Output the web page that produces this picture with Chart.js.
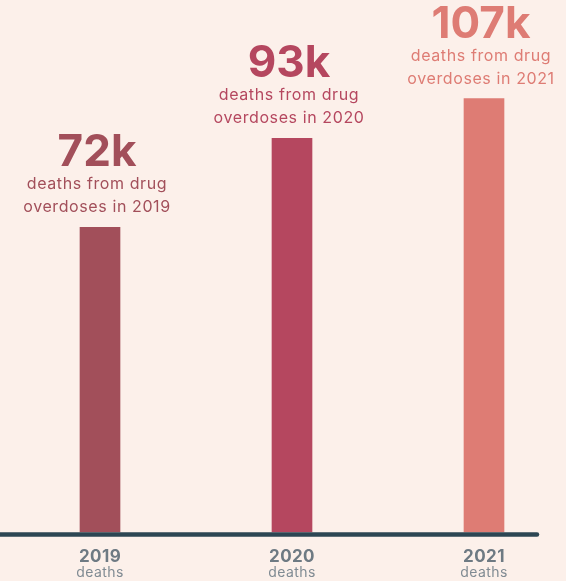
<!DOCTYPE html>
<html>
<head>
<meta charset="utf-8">
<script src="https://cdn.jsdelivr.net/npm/chart.js@4/dist/chart.umd.min.js"></script>
<style>
  html, body { margin: 0; padding: 0; background: #fcf0ea; }
  #wrap { width: 566px; height: 581px; position: relative; }
</style>
</head>
<body>
<div id="wrap"><canvas id="chart"></canvas></div>
<script>
const years = ['2019', '2020', '2021'];
// bar heights as drawn, in thousands of deaths
const barHeights = [72, 93, 102.4];
const valueLabels = ['72k', '93k', '107k'];
const captionLines = [
  ['deaths from drug', 'overdoses in 2019'],
  ['deaths from drug', 'overdoses in 2020'],
  ['deaths from drug', 'overdoses in 2021']
];
const subLabel = 'deaths';
const barColors = ['#a24f5a', '#b5475f', '#de7c74'];

// baseline, labels above the bars and year labels under the axis
const annotate = {
  id: 'annotate',
  afterDatasetsDraw(chart) {
    const ctx = chart.ctx;
    const meta = chart.getDatasetMeta(0);
    const bottom = chart.chartArea.bottom;
    ctx.save();

    ctx.strokeStyle = '#2c4653';
    ctx.lineWidth = 4.5;
    ctx.lineCap = 'round';
    ctx.beginPath();
    ctx.moveTo(-5, bottom + 2.5);
    ctx.lineTo(537, bottom + 2.5);
    ctx.stroke();

    ctx.textAlign = 'center';
    ctx.textBaseline = 'alphabetic';
    meta.data.forEach((bar, i) => {
      const cx = bar.x - 3;
      ctx.fillStyle = barColors[i];
      ctx.font = 'bold 44px Inter';
      ctx.letterSpacing = '0px';
      ctx.fillText(valueLabels[i], cx, bar.y - 61);
      ctx.font = '16px Inter';
      ctx.letterSpacing = '0.6px';
      ctx.fillText(captionLines[i][0], cx, bar.y - 38);
      ctx.fillText(captionLines[i][1], cx, bar.y - 15);

      ctx.letterSpacing = '0.4px';
      ctx.fillStyle = '#6e7a83';
      ctx.font = 'bold 17px Inter';
      ctx.fillText(years[i], bar.x, bottom + 30);
      ctx.fillStyle = '#808b93';
      ctx.font = '14px Inter';
      ctx.fillText(subLabel, bar.x, bottom + 45);
    });
    ctx.restore();
  }
};

new Chart(document.getElementById('chart'), {
  type: 'bar',
  data: {
    labels: years,
    datasets: [{
      data: barHeights,
      backgroundColor: barColors,
      barThickness: 40,
      borderWidth: 0,
      clip: false
    }]
  },
  options: {
    responsive: true,
    maintainAspectRatio: false,
    animation: false,
    layout: { padding: { left: 100, right: 82, top: 2, bottom: 49 } },
    plugins: { legend: { display: false }, tooltip: { enabled: false } },
    scales: {
      x: { display: false, offset: false },
      y: { display: false, min: 0, max: 125.2 }
    }
  },
  plugins: [annotate]
});
</script>
</body>
</html>
